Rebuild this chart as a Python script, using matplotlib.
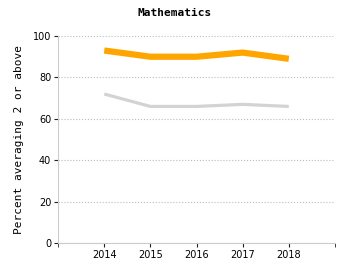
import matplotlib
matplotlib.use('Agg')
import matplotlib.pyplot as plt

years = [2014, 2015, 2016, 2017, 2018]
school = [93, 90, 90, 92, 89]
state = [72, 66, 66, 67, 66]

fig = plt.figure(figsize=(3.5, 2.75), dpi=100)
ax = fig.add_axes([0.166, 0.116, 0.791, 0.753])

ax.plot(years, state, color='#d3d3d3', linewidth=2.3, solid_capstyle='butt')
ax.plot(years, school, color='#ffa500', linewidth=4.5, solid_capstyle='butt')

ax.set_xlim(2013, 2019)
ax.set_ylim(0, 100)
ax.set_xticks(years)
ax.set_xticks([2013, 2019], minor=True)
ax.set_yticks([0, 20, 40, 60, 80, 100])
ax.yaxis.grid(True, linestyle=':', color='#bbbbbb', linewidth=0.8)
ax.set_axisbelow(True)

for s in ['top', 'right']:
    ax.spines[s].set_visible(False)
for s in ['left', 'bottom']:
    ax.spines[s].set_color('#cccccc')

ax.tick_params(axis='both', labelsize=7, length=3, color='#222222', pad=2)
ax.tick_params(axis='x', which='minor', length=3, color='#222222')

ax.set_ylabel('Percent averaging 2 or above', family='DejaVu Sans Mono', fontsize=8, labelpad=6)
fig.text(0.5, 0.953, 'Mathematics', family='DejaVu Sans Mono', fontsize=8,
         fontweight='bold', ha='center', va='center')

fig.savefig('out.png', dpi=100)
